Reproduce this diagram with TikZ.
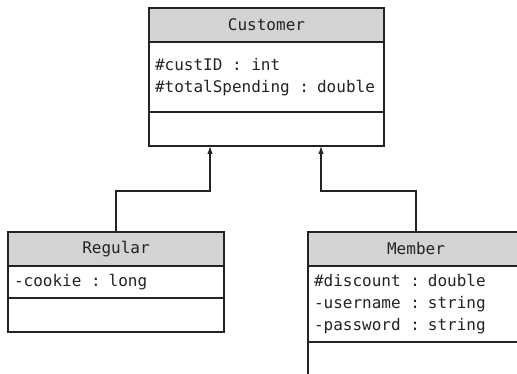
\documentclass[tikz,border=0pt]{standalone}
\usepackage{fontspec}
\setmonofont{DejaVu Sans Mono}
\usepackage{tikz}
\usetikzlibrary{arrows.meta,positioning}
\definecolor{hdrgray}{RGB}{211,211,211}
\definecolor{umlink}{RGB}{35,35,35}
\tikzset{
  cls/.style={draw=umlink,line width=1.1pt,outer sep=0pt,inner sep=0pt,
              text=umlink,font=\ttfamily\fontsize{16}{22}\selectfont},
  hdr/.style={cls,fill=hdrgray,align=center,minimum height=34pt},
  attrs/.style={cls,align=left,inner xsep=6pt,
                execute at begin node={\spaceskip=0.602em\relax}},
  ops/.style={cls,minimum height=34pt},
  arr/.style={-{Latex[length=8pt,width=5.5pt]},line width=1.1pt,draw=umlink},
}

\begin{document}
\begin{tikzpicture}[x=1pt,y=1pt,node distance=0pt]
        \path[use as bounding box] (0,0) rectangle (517,-374);
        \clip (0,0) rectangle (517,-374);
        % base class
        \node[hdr,minimum width=235pt] (cust) at (266.5,-25) {Customer};
        \node[attrs,text width=223pt,minimum height=70pt,below=of cust] (custAttr)
          {\#custID : int\\\#totalSpending : double};
        \node[ops,minimum width=235pt,below=of custAttr] (custOps) {};
        % subclasses
        \node[hdr,minimum width=216pt] (reg) at (116,-249) {Regular};
        \node[attrs,text width=204pt,minimum height=32pt,below=of reg] (regAttr)
          {-cookie : long};
        \node[ops,minimum width=216pt,below=of regAttr] (regOps) {};
        \node[hdr,minimum width=216pt] (mem) at (416,-249) {Member};
        \node[attrs,text width=204pt,minimum height=76pt,below=of mem] (memAttr)
          {\#discount : double\\-username : string\\-password : string};
        \node[ops,minimum width=216pt,below=of memAttr] (memOps) {};
        % inheritance
        \draw[arr] (reg.north) -- ++(0,41) -| ([xshift=-56.5pt]custOps.south);
        \draw[arr] (mem.north) -- ++(0,41) -| ([xshift=54.5pt]custOps.south);
      \end{tikzpicture}
\end{document}
